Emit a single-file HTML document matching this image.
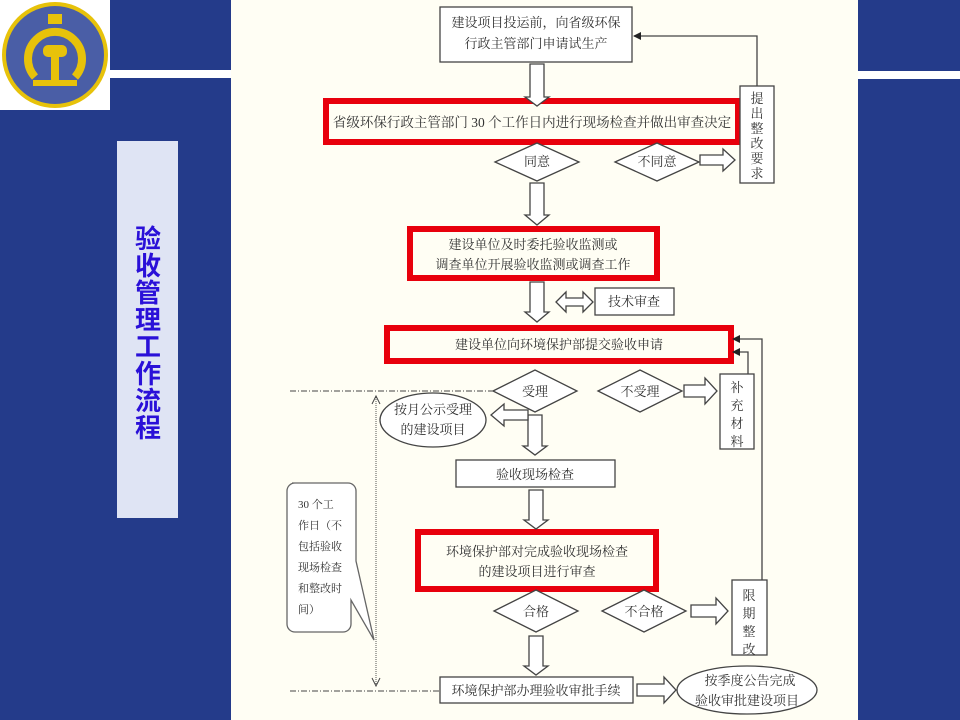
<!DOCTYPE html>
<html><head><meta charset="utf-8"><style>
html,body{margin:0;padding:0;background:#243b8a;}
svg{display:block}
text{font-family:"Liberation Serif","Noto Serif CJK SC","Noto Sans CJK SC",serif;fill:#333;}
</style></head><body>
<svg width="960" height="720" viewBox="0 0 960 720" xmlns="http://www.w3.org/2000/svg">
<defs>
<marker id="ah" markerWidth="8" markerHeight="8" refX="7" refY="4" orient="auto" markerUnits="userSpaceOnUse"><path d="M0,0 L8,4 L0,8 Z" fill="#222"/></marker>
<marker id="vh" markerWidth="10" markerHeight="10" refX="5" refY="9" orient="auto" markerUnits="userSpaceOnUse"><path d="M0,0 L5,9 L10,0" fill="none" stroke="#333"/></marker>
</defs>
<rect width="960" height="720" fill="#243b8a"/>
<rect x="231" y="0" width="627" height="720" fill="#fffef4"/>
<rect x="110" y="70" width="121" height="8" fill="#fff"/>
<rect x="858" y="71" width="102" height="8" fill="#fff"/>
<rect x="0" y="0" width="110" height="110" fill="#fff"/>
<circle cx="55" cy="55" r="53" fill="#e7c20a"/>
<circle cx="55" cy="55" r="49" fill="#4a5ea6"/>
<path d="M35,77 A27,27 0 1 1 75,77" fill="none" stroke="#e7c20a" stroke-width="8"/>
<rect x="48" y="14" width="14" height="10" fill="#e7c20a"/>
<rect x="43" y="45" width="24" height="12" rx="5" fill="#e7c20a"/>
<rect x="51" y="55" width="8" height="25" fill="#e7c20a"/>
<rect x="33" y="80" width="44" height="6" fill="#e7c20a"/>
<rect x="117" y="141" width="61" height="377" fill="#dfe4f4"/>
<text x="148" y="0" text-anchor="middle" style="font-family:'Noto Sans CJK SC',sans-serif;font-weight:bold;font-size:26px;fill:#2a10d8">
<tspan x="148" y="248">验</tspan><tspan x="148" y="275">收</tspan><tspan x="148" y="302">管</tspan><tspan x="148" y="329">理</tspan><tspan x="148" y="356">工</tspan><tspan x="148" y="383">作</tspan><tspan x="148" y="410">流</tspan><tspan x="148" y="437">程</tspan></text>

<g stroke="#444" stroke-width="1.3" fill="#fff">
<rect x="440" y="7" width="192" height="55"/>
<rect x="326" y="101" width="412" height="41" fill="none" stroke="#e8000c" stroke-width="6"/>
<path d="M495,162 L537,143 L579,162 L537,181 Z"/>
<path d="M615,162 L657,143 L699,162 L657,181 Z"/>
<rect x="740" y="86" width="34" height="97"/>
<rect x="410" y="229" width="247" height="49" fill="none" stroke="#e8000c" stroke-width="6"/>
<rect x="595" y="288" width="79" height="27"/>
<rect x="387" y="328" width="344" height="33" fill="none" stroke="#e8000c" stroke-width="6"/>
<path d="M493,391 L535,370 L577,391 L535,412 Z"/>
<path d="M598,391 L640,370 L682,391 L640,412 Z"/>
<rect x="720" y="374" width="34" height="75"/>
<ellipse cx="433" cy="420" rx="53" ry="27"/>
<rect x="456" y="460" width="159" height="27"/>
<rect x="418" y="532" width="238" height="57" fill="none" stroke="#e8000c" stroke-width="6"/>
<path d="M494,611 L536,590 L578,611 L536,632 Z"/>
<path d="M602,611 L644,590 L686,611 L644,632 Z"/>
<rect x="732" y="580" width="35" height="75"/>
<rect x="440" y="677" width="193" height="26"/>
<ellipse cx="747" cy="690" rx="70" ry="24"/>
<path d="M292,483 h56 a8,8 0 0 1 8,8 v70 L374,640 L351,600 v24 a8,8 0 0 1 -8,8 h-48 a8,8 0 0 1 -8,-8 v-133 a8,8 0 0 1 8,-8z" stroke="#666"/>
<!-- hollow down arrows -->
<path d="M530,64 h14 v33 h5 l-12,9 l-12,-9 h5 Z"/>
<path d="M530,183 h14 v32 h5 l-12,10 l-12,-10 h5 Z"/>
<path d="M530,282 h14 v30 h5 l-12,10 l-12,-10 h5 Z"/>
<path d="M528,415 h14 v31 h5 l-12,9 l-12,-9 h5 Z"/>
<path d="M529,490 h14 v30 h5 l-12,9 l-12,-9 h5 Z"/>
<path d="M529,636 h14 v30 h5 l-12,9 l-12,-9 h5 Z"/>
<!-- hollow right arrows -->
<path d="M700,155 h23 v-6 l12,11 l-12,11 v-6 h-23 Z"/>
<path d="M684,385 h21 v-7 l12,13 l-12,13 v-7 h-21 Z"/>
<path d="M691,605 h25 v-7 l12,13 l-12,13 v-7 h-25 Z"/>
<path d="M637,684 h27 v-7 l12,13 l-12,13 v-7 h-27 Z"/>
<path d="M528,410 h-24 v-6 l-13,11 l13,11 v-6 h24 Z"/>
<path d="M556,302 l10,-10 v6 h17 v-6 l10,10 l-10,10 v-6 h-17 v6 Z"/>
</g>
<g fill="none" stroke="#444" stroke-width="1.3">
<path d="M757,86 V36 H634" marker-end="url(#ah)"/>
<path d="M762,580 V339 H733" marker-end="url(#ah)"/>
<path d="M748,374 V352 H733" marker-end="url(#ah)"/>
</g>
<g stroke="#444" stroke-width="1" stroke-dasharray="6,2,1,2" fill="none">
<path d="M290,391 H493"/><path d="M290,691 H440"/>
</g>
<path d="M376,397 V686" stroke="#555" stroke-width="1" stroke-dasharray="1,1" fill="none"/>
<path d="M372,404 L376,396 L380,404 M372,678 L376,686 L380,678" stroke="#444" fill="none"/>

<g font-size="13" text-anchor="middle">
<text x="536" y="27">建设项目投运前，向省级环保</text>
<text x="536" y="48">行政主管部门申请试生产</text>
<text x="532" y="127" font-size="13.5">省级环保行政主管部门 30 个工作日内进行现场检查并做出审查决定</text>
<text x="537" y="166">同意</text>
<text x="657" y="166">不同意</text>
<text x="533" y="249">建设单位及时委托验收监测或</text>
<text x="533" y="269">调查单位开展验收监测或调查工作</text>
<text x="634" y="306">技术审查</text>
<text x="559" y="349">建设单位向环境保护部提交验收申请</text>
<text x="535" y="396">受理</text>
<text x="640" y="396">不受理</text>
<text x="433" y="414">按月公示受理</text>
<text x="433" y="434">的建设项目</text>
<text x="535" y="479">验收现场检查</text>
<text x="537" y="556">环境保护部对完成验收现场检查</text>
<text x="537" y="576">的建设项目进行审查</text>
<text x="536" y="616">合格</text>
<text x="644" y="616">不合格</text>
<text x="536" y="695">环境保护部办理验收审批手续</text>
<text x="750" y="685">按季度公告完成</text>
<text x="747" y="705">验收审批建设项目</text>
</g>
<g font-size="13" text-anchor="middle">
<text x="757" y="103">提</text><text x="757" y="118">出</text><text x="757" y="133">整</text><text x="757" y="148">改</text><text x="757" y="163">要</text><text x="757" y="178">求</text>
<text x="737" y="392">补</text><text x="737" y="410">充</text><text x="737" y="428">材</text><text x="737" y="446">料</text>
<text x="749" y="600">限</text><text x="749" y="618">期</text><text x="749" y="636">整</text><text x="749" y="654">改</text>
</g>
<g font-size="11">
<text x="298" y="508">30 个工</text>
<text x="298" y="529">作日（不</text>
<text x="298" y="550">包括验收</text>
<text x="298" y="571">现场检查</text>
<text x="298" y="592">和整改时</text>
<text x="298" y="613">间）</text>
</g>
</svg>
</body></html>
